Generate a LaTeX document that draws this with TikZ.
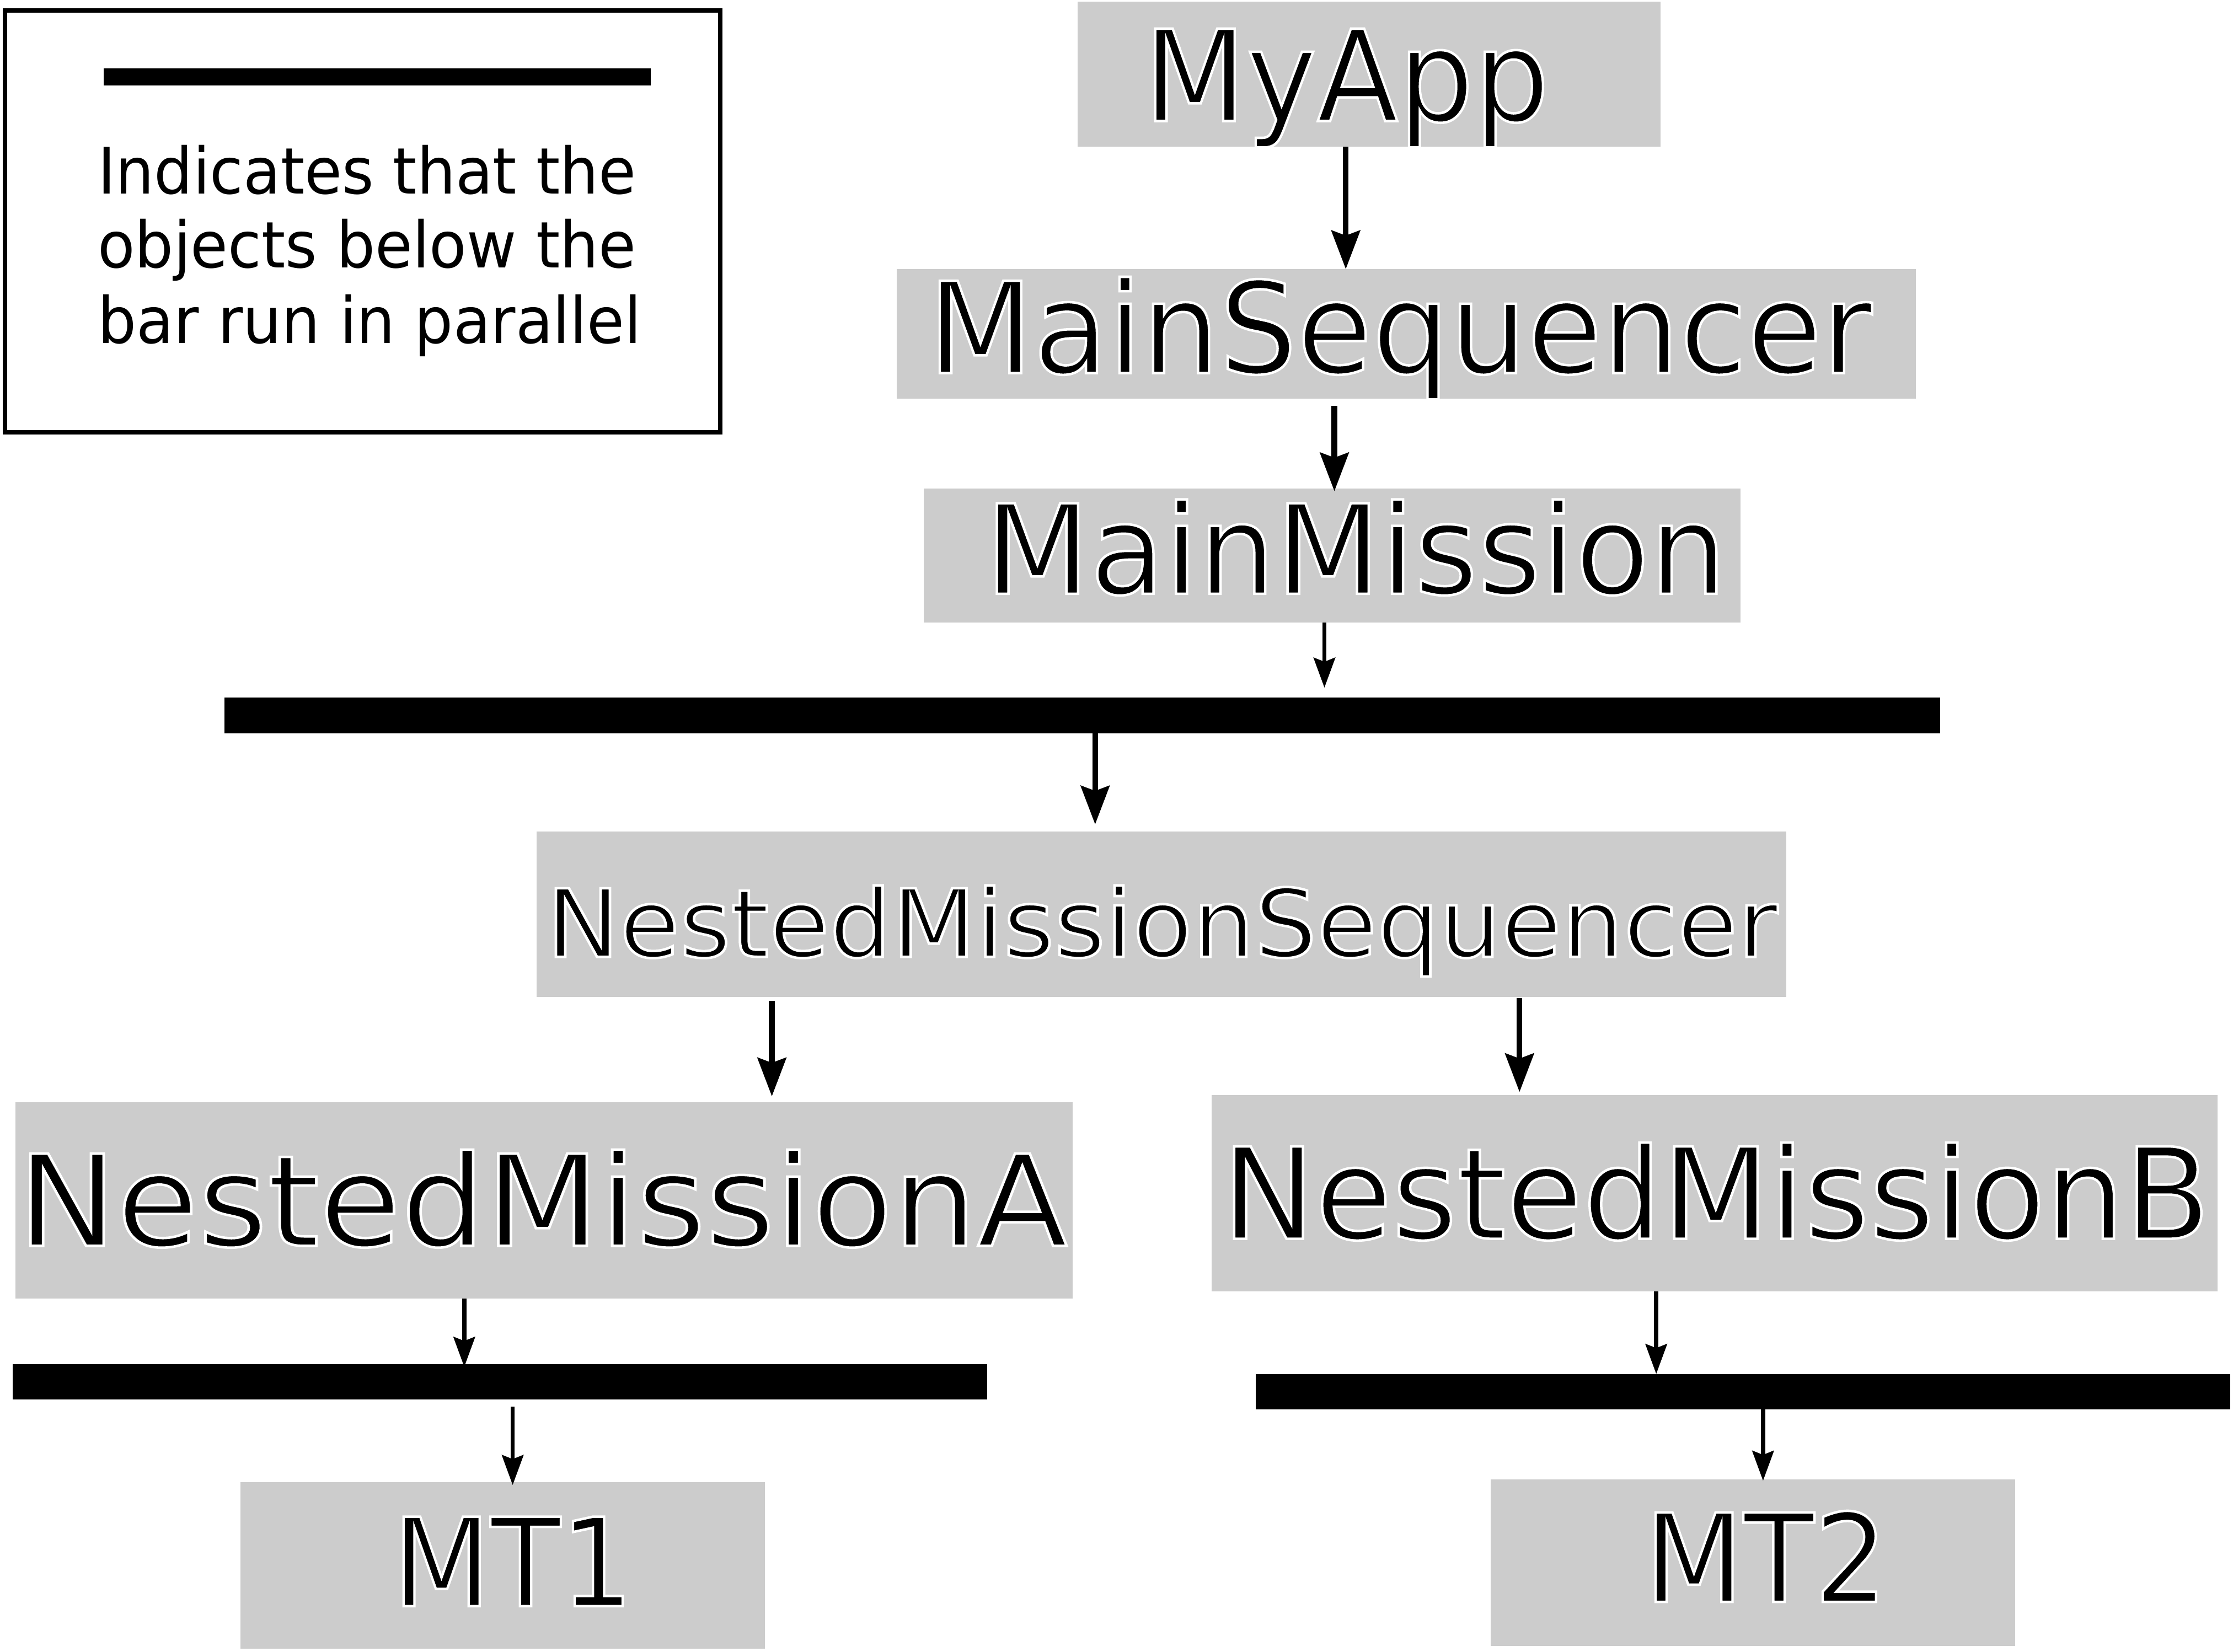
\documentclass[tikz,border=0pt]{standalone}
\usepackage{fontspec}
\usepackage{graphicx}
\usetikzlibrary{arrows.meta}
\newfontfamily\dvfont{DejaVu Sans}
\definecolor{boxgray}{HTML}{CCCCCC}
% black glyphs with a thin white stroke drawn on their outline
\newcommand\haloed[1]{\special{pdf:literal direct 2 Tr 1 1 1 RG 0.5 w}#1\special{pdf:literal direct 0 Tr 0 0 0 RG}}
\newcommand\lbltext[3]{{\dvfont\fontsize{#1}{#1}\selectfont\scalebox{#2}[1]{\haloed{#3}}}}
\newcommand\legtext[1]{{\dvfont\fontsize{12.8pt}{12.8pt}\selectfont\scalebox{0.95}[1]{#1}}}
\tikzset{
  box/.style={rectangle, fill=boxgray, draw=none, inner sep=0pt, outer sep=0pt},
  barbox/.style={rectangle, fill=black, draw=none, inner sep=0pt, outer sep=0pt},
  lbl/.style={anchor=base, inner sep=0pt, outer sep=0pt},
  bigarr/.style={line width=0.04cm, -{Stealth[length=0.27cm, width=0.20cm, inset=0.035cm]}},
  smallarr/.style={line width=0.03cm, -{Stealth[length=0.21cm, width=0.15cm, inset=0.028cm]}},
}
\begin{document}
\begin{tikzpicture}[x=0.01cm, y=-0.01cm]
\useasboundingbox (0,0) rectangle (1568,1160);

% legend
\node[rectangle, draw=black, line width=0.03cm, inner sep=0pt, minimum width=5.02cm, minimum height=2.96cm] (legend) at (254.5,155.5) {};
\node[barbox, minimum width=3.84cm, minimum height=0.12cm] (legbar) at (265,54) {};
\node[anchor=base west, inner sep=0pt] (leg1) at (68,136) {\legtext{Indicates that the}};
\node[anchor=base west, inner sep=0pt] (leg2) at (68,188) {\legtext{objects below the}};
\node[anchor=base west, inner sep=0pt] (leg3) at (68,241) {\legtext{bar run in parallel}};

% boxes
\node[box, minimum width=4.09cm, minimum height=1.02cm] (myapp) at (961.5,52) {};
\node[box, minimum width=7.15cm, minimum height=0.91cm] (mainseq) at (987.5,234.5) {};
\node[box, minimum width=5.73cm, minimum height=0.94cm] (mainmis) at (935.5,390) {};
\node[barbox, minimum width=12.04cm, minimum height=0.25cm] (bar1) at (760,502.5) {};
\node[box, minimum width=8.77cm, minimum height=1.16cm] (nms) at (815.5,642) {};
\node[box, minimum width=7.42cm, minimum height=1.38cm] (nma) at (382,843) {};
\node[box, minimum width=7.06cm, minimum height=1.38cm] (nmb) at (1204,838) {};
\node[barbox, minimum width=6.84cm, minimum height=0.25cm] (bar2) at (351,970.5) {};
\node[barbox, minimum width=6.84cm, minimum height=0.25cm] (bar3) at (1224,977.5) {};
\node[box, minimum width=3.68cm, minimum height=1.17cm] (mt1) at (353,1099.5) {};
\node[box, minimum width=3.68cm, minimum height=1.17cm] (mt2) at (1231,1097.5) {};

% labels
\node[lbl] (tmyapp) at (945.5,85) {\lbltext{25.3pt}{0.94}{MyApp}};
\node[lbl] (tmainseq) at (983,262) {\lbltext{25.3pt}{0.964}{MainSequencer}};
\node[lbl] (tmainmis) at (952,417) {\lbltext{24.8pt}{0.98}{MainMission}};
\node[lbl] (tnms) at (816,672) {\lbltext{18.8pt}{1.04}{NestedMissionSequencer}};
\node[lbl] (tnma) at (381,875) {\lbltext{25.3pt}{1.047}{NestedMissionA}};
\node[lbl] (tnmb) at (1205,870) {\lbltext{25.3pt}{0.985}{NestedMissionB}};
\node[lbl] (tmt1) at (360,1128) {\lbltext{24.5pt}{0.93}{MT1}};
\node[lbl] (tmt2) at (1240,1125) {\lbltext{24.5pt}{0.94}{MT2}};

% connectors
\draw[bigarr] (myapp.south -| 945,0) -- (mainseq.north -| 945,0);
\draw[bigarr, shorten <=0.05cm, shorten >=-0.02cm] (mainseq.south -| 937,0) -- (mainmis.north -| 937,0);
\draw[smallarr, shorten >=0.07cm] (mainmis.south -| 930,0) -- (bar1.north -| 930,0);
\draw[bigarr, shorten >=0.05cm] (bar1.south -| 769,0) -- (nms.north -| 769,0);
\draw[bigarr, shorten <=0.03cm, shorten >=0.04cm] (nms.south -| 542,0) -- (nma.north -| 542,0);
\draw[bigarr, shorten <=0.01cm, shorten >=0.02cm] (nms.south -| 1067,0) -- (nmb.north -| 1067,0);
\draw[smallarr, shorten >=-0.02cm] (nma.south -| 326,0) -- (bar2.north -| 326,0);
\draw[smallarr, shorten <=0.05cm, shorten >=-0.02cm] (bar2.south -| 360,0) -- (mt1.north -| 360,0);
\draw[smallarr] (nmb.south -| 1163,0) -- (bar3.north -| 1163,0);
\draw[smallarr, shorten <=0.00cm, shorten >=-0.01cm] (bar3.south -| 1238,0) -- (mt2.north -| 1238,0);
\end{tikzpicture}
\end{document}
